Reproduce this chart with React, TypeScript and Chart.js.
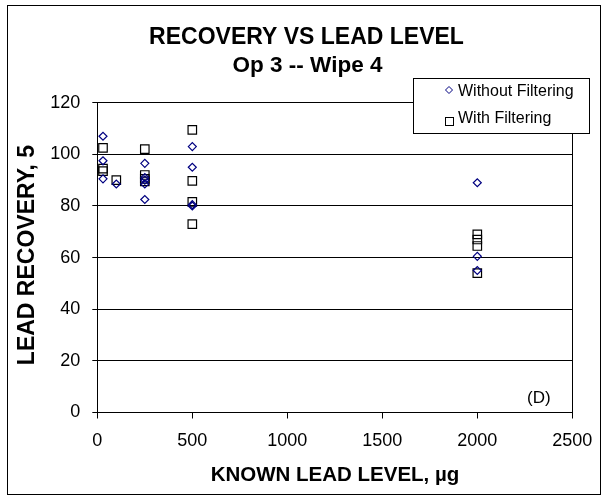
import React, { useEffect, useRef } from "react";
import { Chart, registerables } from "chart.js";

Chart.register(...registerables);

const titleText = "RECOVERY VS LEAD LEVEL";
const subtitleText = "Op 3 -- Wipe 4";
const xAxisTitle = "KNOWN LEAD LEVEL, \u00B5g";
const yAxisTitle = "LEAD RECOVERY, 5";
const panelTag = "(D)";
const seriesNames = ["Without Filtering", "With Filtering"];

const withoutX = [30, 30, 30, 100, 250, 250, 250, 250, 250, 500, 500, 500, 500, 2000, 2000, 2000];
const withoutY = [107, 97.5, 90.5, 88.5, 96.5, 91, 90, 88.5, 82.5, 103, 95, 80.5, 80, 89, 60.5, 55];

const withX = [30, 30, 30, 100, 250, 250, 250, 250, 500, 500, 500, 500, 2000, 2000, 2000, 2000];
const withY = [102.5, 94.5, 93.5, 90, 102, 92, 90.5, 89.5, 109.5, 89.7, 81.6, 73, 69, 67, 64.5, 54];

const xTicks = [0, 500, 1000, 1500, 2000, 2500];
const yTicks = [0, 20, 40, 60, 80, 100, 120];

const FONT = "'Liberation Sans', Arial, Helvetica, sans-serif";

export default function App() {
  const ref = useRef<HTMLCanvasElement>(null);

  useEffect(() => {
    if (!ref.current) return;
    const decor = {
      id: "decor",
      afterDraw(chart: any) {
        const ctx = chart.ctx as CanvasRenderingContext2D;
        ctx.save();
        // outer frame
        ctx.strokeStyle = "#000";
        ctx.lineWidth = 1;
        ctx.strokeRect(7.5, 5.5, 593, 489);

        ctx.fillStyle = "#000";
        ctx.textAlign = "center";
        ctx.textBaseline = "alphabetic";
        ctx.font = `bold 23px ${FONT}`;
        ctx.fillText(titleText, 306.5, 44);
        ctx.font = `bold 22.5px ${FONT}`;
        ctx.fillText(subtitleText, 307.5, 72);

        ctx.font = `bold 20.5px ${FONT}`;
        ctx.fillText(xAxisTitle, 335, 481);

        ctx.save();
        ctx.translate(28, 255);
        ctx.rotate(-Math.PI / 2);
        ctx.textBaseline = "middle";
        ctx.font = `bold 23px ${FONT}`;
        ctx.fillText(yAxisTitle, 0, 0);
        ctx.restore();

        ctx.font = `17px ${FONT}`;
        ctx.textAlign = "left";
        ctx.fillText(panelTag, 527, 403);

        // legend box
        ctx.fillStyle = "#fff";
        ctx.fillRect(413.5, 78.5, 176, 55);
        ctx.strokeStyle = "#000";
        ctx.strokeRect(413.5, 78.5, 176, 55);

        // diamond marker
        ctx.strokeStyle = "#000080";
        ctx.beginPath();
        ctx.moveTo(449, 86.5);
        ctx.lineTo(452.5, 90);
        ctx.lineTo(449, 93.5);
        ctx.lineTo(445.5, 90);
        ctx.closePath();
        ctx.stroke();
        // square marker
        ctx.strokeStyle = "#000";
        ctx.strokeRect(445.5, 117.5, 8, 8);

        ctx.fillStyle = "#000";
        ctx.font = `16px ${FONT}`;
        ctx.textBaseline = "alphabetic";
        ctx.fillText(seriesNames[0], 458, 96);
        ctx.fillText(seriesNames[1], 458, 123);
        ctx.restore();
      },
    };

    const chart = new Chart(ref.current, {
      type: "scatter",
      data: {
        datasets: [
          {
            label: seriesNames[0],
            data: withoutX.map((x, i) => ({ x, y: withoutY[i] })),
            pointStyle: "rectRot",
            pointRadius: 4,
            pointHoverRadius: 4,
            borderColor: "#000080",
            backgroundColor: "rgba(0,0,0,0)",
            borderWidth: 1.2,
          },
          {
            label: seriesNames[1],
            data: withX.map((x, i) => ({ x, y: withY[i] })),
            pointStyle: "rect",
            pointRadius: 6,
            pointHoverRadius: 6,
            borderColor: "#000",
            backgroundColor: "rgba(0,0,0,0)",
            borderWidth: 1.2,
          },
        ],
      },
      options: {
        animation: false,
        responsive: false,
        events: [],
        layout: { padding: { left: 37.3, right: 35.7, top: 102.7, bottom: 47.5 } },
        plugins: { legend: { display: false }, title: { display: false }, tooltip: { enabled: false } },
        scales: {
          x: {
            type: "linear",
            min: 0,
            max: 2500,
            afterFit: (s: any) => {
              s.height = 40;
            },
            afterBuildTicks: (s: any) => {
              s.ticks = xTicks.map((v) => ({ value: v }));
            },
            ticks: {
              color: "#000",
              font: { family: FONT, size: 18 },
              padding: 12,
              maxRotation: 0,
              callback: (v: any) => String(v),
            },
            grid: {
              color: (c: any) => (c.tick && c.tick.value === 2500 ? "#000" : "rgba(0,0,0,0)"),
              tickColor: "#000",
              tickLength: 6,
              lineWidth: 1,
            },
            border: { color: "#000", width: 1 },
          },
          y: {
            type: "linear",
            min: 0,
            max: 120,
            afterFit: (s: any) => {
              s.width = 60;
            },
            afterBuildTicks: (s: any) => {
              s.ticks = yTicks.map((v) => ({ value: v }));
            },
            ticks: { color: "#000", font: { family: FONT, size: 18 }, padding: 12, callback: (v: any) => String(v) },
            grid: {
              color: (c: any) => (c.tick && c.tick.value === 0 ? "rgba(0,0,0,0)" : "#000"),
              tickColor: "#000",
              tickLength: 5,
              lineWidth: 1,
            },
            border: { color: "#000", width: 1 },
          },
        },
      },
      plugins: [decor],
    });
    return () => chart.destroy();
  }, []);

  return (
    <div style={{ position: "absolute", left: 0, top: 0, width: 608, height: 500, background: "#fff" }}>
      <canvas ref={ref} width={608} height={500} style={{ display: "block" }} />
    </div>
  );
}
